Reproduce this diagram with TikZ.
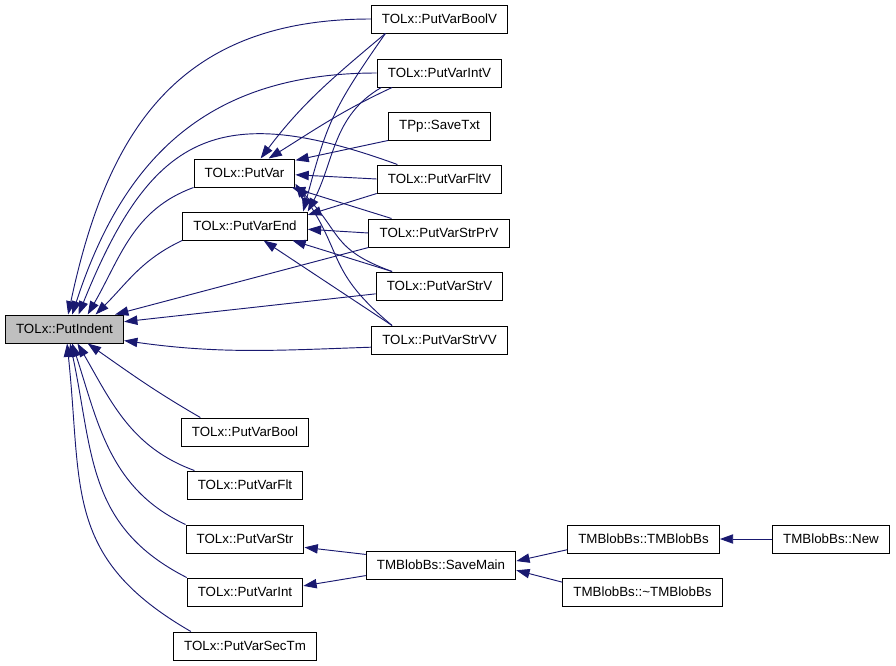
\documentclass[tikz,border=0pt]{standalone}
\usepackage{fontspec}
\setmainfont{Liberation Sans}
\usetikzlibrary{arrows.meta}
\definecolor{callblue}{RGB}{25,25,112}
\definecolor{focusgray}{RGB}{191,191,191}

\begin{document}
\begin{tikzpicture}[
        x=0.75pt, y=-0.75pt,
        every node/.style={font=\fontsize{10pt}{12pt}\selectfont},
        fn/.style={draw, line width=0.75pt, fill=white, minimum height=21pt, inner xsep=8pt, inner ysep=0pt, align=center},
        call/.style={-{Triangle[length=10pt,width=7pt]}, draw=callblue, line width=0.7pt}
    ]
    \useasboundingbox (0,0) rectangle (896,665);

    \node[fn, fill=focusgray] (indent) at (64.5,329) {TOLx::PutIndent};
    \node[fn] (putvar) at (244.5,173) {TOLx::PutVar};
    \node[fn] (putvarend) at (245,226) {TOLx::PutVarEnd};
    \node[fn] (boolv) at (439.5,19) {TOLx::PutVarBoolV};
    \node[fn] (intv) at (439.5,73) {TOLx::PutVarIntV};
    \node[fn] (savetxt) at (439.5,126) {TPp::SaveTxt};
    \node[fn] (fltv) at (439.5,179) {TOLx::PutVarFltV};
    \node[fn] (strprv) at (439,233) {TOLx::PutVarStrPrV};
    \node[fn] (strv) at (439.5,286) {TOLx::PutVarStrV};
    \node[fn] (strvv) at (439.5,340) {TOLx::PutVarStrVV};
    \node[fn] (putbool) at (245,432) {TOLx::PutVarBool};
    \node[fn] (putflt) at (245,485) {TOLx::PutVarFlt};
    \node[fn] (putstr) at (245,539) {TOLx::PutVarStr};
    \node[fn] (putint) at (245,592) {TOLx::PutVarInt};
    \node[fn] (putsectm) at (245,646) {TOLx::PutVarSecTm};
    \node[fn] (savemain) at (441,565) {TMBlobBs::SaveMain};
    \node[fn] (ctor) at (643.5,539) {TMBlobBs::TMBlobBs};
    \node[fn] (dtor) at (642.5,592) {TMBlobBs::\textasciitilde TMBlobBs};
    \node[fn] (blobnew) at (831,539) {TMBlobBs::New};

    % callers of PutIndent
    \draw[call] (boolv.west) to[out=180,in=78,looseness=1.15] (indent.76);
    \draw[call] (intv.west) to[out=180,in=72,looseness=1.1] (indent.62);
    \draw[call] (fltv.161) to[out=160,in=68,looseness=1.4] (indent.46);
    \draw[call] (putvar.south west) to[out=200,in=60] (indent.32);
    \draw[call] (putvarend.south west) to[out=205,in=45] (indent.25);
    \draw[call] (strprv.south west) -- (indent.16);
    \draw[call] (strv.187) -- (indent.7);
    \draw[call] (strvv.186) to[out=182,in=-8] (indent.-11);
    \draw[call] (putbool.162) to[out=150,in=-35] (indent.-32);
    \draw[call] (putflt.164) to[out=160,in=-60] (indent.-48);
    \draw[call] (putstr.north west) to[out=155,in=-72] (indent.-62);
    \draw[call] (putint.north west) to[out=153,in=-78,looseness=1.1] (indent.-69);
    \draw[call] (putsectm.165) to[out=150,in=-84,looseness=1.2] (indent.-80);

    % callers of PutVar
    \draw[call] (boolv.195) to[out=220,in=53] (putvar.42);
    \draw[call] (intv.197) to[out=205,in=32] (putvar.31);
    \draw[call] (savetxt.south west) -- (putvar.14);
    \draw[call] (fltv.west) -- (putvar.-2);
    \draw[call] (strprv.163) -- (putvar.-17);
    \draw[call] (strv.163) to[out=160,in=-45,looseness=1.3] (putvar.-14);
    \draw[call] (strvv.163) to[out=140,in=-55,looseness=1.3] (putvar.-12);

    % callers of PutVarEnd
    \draw[call] (boolv.195) to[out=235,in=75,looseness=1.2] (putvarend.14);
    \draw[call] (intv.194) to[out=210,in=62] (putvarend.13);
    \draw[call] (fltv.south west) -- (putvarend.10);
    \draw[call] (strprv.west) -- (putvarend.-3);
    \draw[call] (strv.163) -- (putvarend.-17);
    \draw[call] (strvv.163) -- (putvarend.-38);

    % blob chain
    \draw[call] (savemain.172) -- (putstr.-8);
    \draw[call] (savemain.188) -- (putint.6);
    \draw[call] (ctor.188) -- (savemain.3);
    \draw[call] (dtor.173) -- (savemain.-4);
    \draw[call] (blobnew.west) -- (ctor.east);
\end{tikzpicture}
\end{document}
